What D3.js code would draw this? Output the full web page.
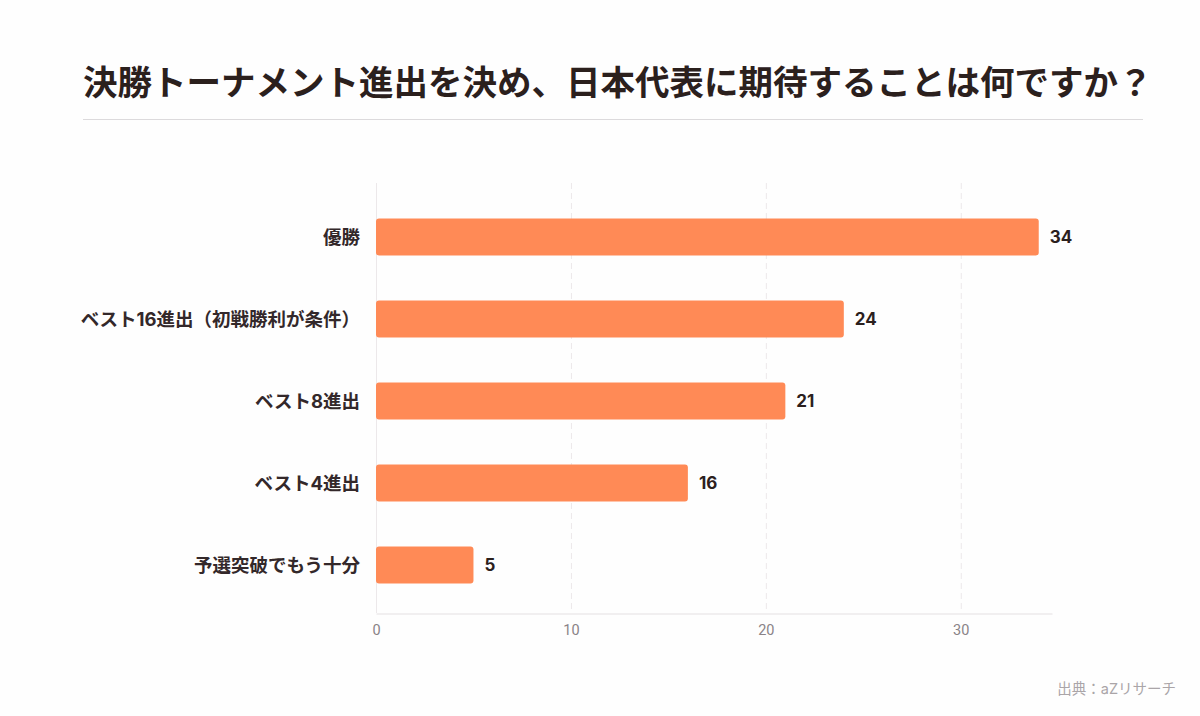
<!DOCTYPE html>
<html lang="ja">
<head>
  <meta charset="UTF-8" />
  <title>日本代表に期待すること</title>
  <style>
    body {
      margin: 0;
      background: #fefefe;
      font-family: Inter, "Noto Sans CJK JP", sans-serif;
    }
    svg { display: block; }
    .grid line { stroke: #ece8ea; stroke-width: 1; stroke-dasharray: 6 4; }
    .axis text { fill: #8a8387; font-size: 14.5px; font-family: Roboto, sans-serif; }
  </style>
  <script src="https://d3js.org/d3.v7.min.js"></script>
</head>
<body>
  <svg id="chart" width="1200" height="716"></svg>
  <script>
    // データ
    const categories = [
      "優勝",
      "ベスト16進出（初戦勝利が条件）",
      "ベスト8進出",
      "ベスト4進出",
      "予選突破でもう十分"
    ];
    const values = [34, 24, 21, 16, 5];
    const tickValues = [0, 10, 20, 30];

    const svg = d3.select("#chart");
    const W = 1200, H = 716;

    svg.append("rect").attr("width", W).attr("height", H).attr("fill", "#fefefe");

    // タイトル
    svg.append("text")
      .attr("x", 83)
      .attr("y", 95)
      .attr("font-size", 34.5)
      .attr("font-weight", 700)
      .attr("fill", "#2b201d")
      .attr("font-family", "'Noto Sans CJK JP', sans-serif")
      .text("決勝トーナメント進出を決め、日本代表に期待することは何ですか？");

    svg.append("line")
      .attr("x1", 83).attr("x2", 1143)
      .attr("y1", 119.5).attr("y2", 119.5)
      .attr("stroke", "#dcdadc");

    // スケール
    const x = d3.scaleLinear()
      .domain([0, d3.max(values) * 1.02])
      .range([376, 1052]);

    const y = d3.scaleBand()
      .domain(categories)
      .range([196, 606])
      .paddingInner(0.55)
      .paddingOuter(0.275);

    // グリッド線
    svg.append("g")
      .attr("class", "grid")
      .selectAll("line")
      .data(tickValues.slice(1))
      .join("line")
      .attr("x1", d => x(d) + 0.5).attr("x2", d => x(d) + 0.5)
      .attr("y1", 183).attr("y2", 613);

    svg.append("line")
      .attr("x1", x(0) + 0.5).attr("x2", x(0) + 0.5)
      .attr("y1", 183).attr("y2", 613)
      .attr("stroke", "#ece8ea");

    // x軸
    const axis = svg.append("g")
      .attr("class", "axis")
      .attr("transform", "translate(0,613.5)")
      .call(d3.axisBottom(x).tickValues(tickValues).tickSize(0).tickPadding(11));
    axis.select(".domain").attr("stroke", "#e4e0e2");

    // 棒
    svg.append("g")
      .selectAll("rect")
      .data(values)
      .join("rect")
      .attr("x", x(0))
      .attr("y", (d, i) => y(categories[i]))
      .attr("width", d => x(d) - x(0))
      .attr("height", y.bandwidth())
      .attr("rx", 3)
      .attr("fill", "#ff8a56");

    // 値ラベル
    svg.append("g")
      .selectAll("text")
      .data(values)
      .join("text")
      .attr("x", d => x(d) + 11)
      .attr("y", (d, i) => y(categories[i]) + y.bandwidth() / 2)
      .attr("dy", "0.36em")
      .attr("font-size", 17)
      .attr("font-weight", 700)
      .attr("fill", "#2b201d")
      .text(d => d);

    // カテゴリラベル
    svg.append("g")
      .selectAll("text")
      .data(categories)
      .join("text")
      .attr("x", 360)
      .attr("y", d => y(d) + y.bandwidth() / 2)
      .attr("dy", "0.36em")
      .attr("text-anchor", "end")
      .attr("font-size", 18.5)
      .attr("font-weight", 700)
      .attr("fill", "#33282a")
      .text(d => d);

    // 出典
    svg.append("text")
      .attr("x", 1176)
      .attr("y", 694)
      .attr("text-anchor", "end")
      .attr("font-size", 14.5)
      .attr("fill", "#aaa5a8")
      .text("出典：aZリサーチ");
  </script>
</body>
</html>
